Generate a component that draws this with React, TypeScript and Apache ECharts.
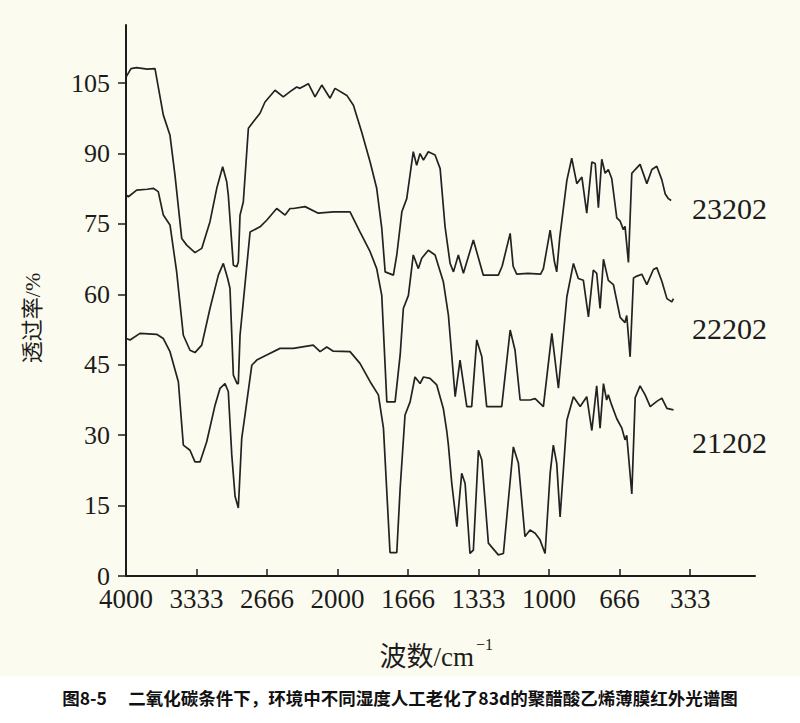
import React, { useEffect, useRef } from 'react';
import * as echarts from 'echarts';

// x-axis tick labels (wavenumber, cm^-1); the spectrum scale changes at 2000 cm^-1
const xTickLabels = ['4000', '3333', '2666', '2000', '1666', '1333', '1000', '666', '333'];
const xTickPositions = [0, 1, 2, 3, 4, 5, 6, 7, 8];
const yTicks = [0, 15, 30, 45, 60, 75, 90, 105];
const seriesNames = ['23202', '22202', '21202'];

// [wavenumber cm^-1, transmittance %]
const s23202: [number, number][] = [
  [4000, 106.3], [3953, 108.1], [3900, 108.3], [3800, 108.0], [3726, 108.1], [3647, 98.2], [3584, 93.9],
  [3537, 85.4], [3473, 71.9], [3426, 70.5], [3348, 68.9], [3284, 69.8], [3206, 75.5], [3142, 82.6],
  [3086, 87.2], [3048, 84.0], [3033, 81.2], [2985, 66.2], [2953, 65.9], [2938, 66.9], [2922, 76.9],
  [2891, 79.7], [2843, 95.4], [2796, 96.8], [2733, 98.6], [2686, 101.0], [2591, 103.5], [2513, 102.1],
  [2449, 103.2], [2386, 104.2], [2355, 103.9], [2276, 104.9], [2213, 102.1], [2149, 104.6], [2071, 101.8],
  [2024, 103.9], [1956, 102.4], [1925, 100.3], [1886, 94.6], [1846, 88.2], [1815, 82.6], [1791, 74.1],
  [1775, 64.8], [1736, 64.1], [1720, 68.4], [1696, 77.6], [1673, 80.4], [1642, 90.4], [1626, 87.5],
  [1610, 90.0], [1594, 88.6], [1571, 90.4], [1539, 89.7], [1515, 86.8], [1492, 74.5], [1468, 66.6],
  [1452, 64.8], [1429, 68.4], [1405, 64.5], [1358, 71.6], [1311, 64.1], [1240, 64.1], [1222, 66.0],
  [1184, 73.0], [1170, 66.0], [1153, 64.3], [1100, 64.5], [1040, 64.3], [1027, 65.5], [995, 73.7],
  [975, 67.0], [964, 64.8], [950, 72.0], [916, 84.3], [893, 89.0], [869, 83.6], [845, 85.0], [822, 77.3],
  [798, 88.2], [782, 87.9], [767, 78.5], [751, 88.8], [735, 85.8], [720, 86.6], [704, 84.7], [680, 76.3],
  [664, 75.6], [649, 73.8], [641, 74.5], [625, 66.8], [609, 85.8], [593, 86.6], [570, 87.7], [538, 83.6],
  [514, 86.6], [491, 87.3], [467, 84.4], [451, 81.4], [436, 80.4], [423, 80.0],
];

const s22202: [number, number][] = [
  [4000, 81.2], [3978, 80.8], [3899, 82.2], [3800, 82.4], [3742, 82.6], [3695, 81.9], [3647, 76.9],
  [3584, 74.8], [3521, 64.8], [3458, 51.3], [3395, 48.1], [3348, 47.6], [3284, 49.2], [3206, 57.0],
  [3127, 64.1], [3080, 66.6], [3040, 63.5], [3017, 61.3], [2985, 42.8], [2950, 41.0], [2938, 41.0],
  [2922, 51.3], [2891, 58.4], [2827, 73.3], [2733, 74.4], [2670, 75.8], [2575, 78.3], [2496, 76.9],
  [2449, 78.3], [2418, 78.3], [2307, 78.7], [2182, 77.3], [2040, 77.6], [1941, 77.6], [1894, 73.3],
  [1846, 69.1], [1815, 65.5], [1791, 59.8], [1767, 37.1], [1728, 37.1], [1704, 47.1], [1689, 57.0],
  [1665, 59.8], [1642, 68.4], [1618, 65.5], [1602, 67.7], [1571, 69.4], [1539, 68.4], [1500, 62.7],
  [1476, 55.6], [1444, 38.2], [1421, 46.0], [1389, 36.1], [1366, 36.1], [1342, 50.3], [1318, 46.7],
  [1295, 36.1], [1224, 36.1], [1184, 52.4], [1161, 48.1], [1137, 37.5], [1090, 37.5], [1066, 37.8],
  [1027, 36.1], [987, 51.7], [956, 40.0], [916, 59.5], [885, 66.6], [862, 63.4], [838, 63.0], [814, 55.2],
  [791, 65.2], [775, 64.5], [759, 57.0], [743, 67.5], [720, 63.0], [696, 62.1], [664, 55.1], [641, 54.0],
  [633, 55.5], [617, 46.7], [601, 63.5], [585, 63.9], [562, 64.3], [538, 62.1], [507, 65.3], [491, 65.7],
  [467, 62.8], [443, 59.1], [420, 58.4], [412, 59.1],
];

const s21202: [number, number][] = [
  [4000, 50.6], [3962, 50.3], [3868, 51.7], [3710, 51.5], [3647, 50.6], [3584, 47.8], [3505, 41.4],
  [3458, 27.9], [3395, 26.8], [3348, 24.3], [3300, 24.3], [3237, 28.6], [3158, 36.4], [3111, 40.0],
  [3064, 41.0], [3033, 39.3], [3000, 25.8], [2969, 17.0], [2938, 14.5], [2906, 29.3], [2875, 34.3],
  [2811, 44.9], [2764, 46.0], [2670, 47.1], [2544, 48.5], [2418, 48.5], [2230, 49.2], [2165, 47.8],
  [2102, 48.8], [2040, 47.9], [1941, 47.8], [1894, 45.3], [1846, 41.4], [1807, 38.6], [1783, 31.5],
  [1752, 5.0], [1720, 5.0], [1704, 18.7], [1681, 34.3], [1657, 37.1], [1634, 42.4], [1610, 41.0],
  [1594, 42.4], [1563, 42.1], [1531, 40.7], [1500, 35.7], [1484, 31.0], [1476, 27.9], [1460, 19.7],
  [1436, 10.5], [1413, 21.9], [1397, 19.7], [1374, 4.8], [1358, 5.5], [1334, 26.8], [1318, 24.7],
  [1287, 7.0], [1240, 4.5], [1216, 4.8], [1169, 27.5], [1145, 24.0], [1114, 8.4], [1090, 9.8],
  [1066, 9.1], [1043, 7.7], [1019, 4.8], [995, 21.9], [980, 27.9], [964, 24.0], [948, 12.6], [916, 33.2],
  [885, 38.2], [853, 36.1], [822, 38.2], [798, 31.0], [775, 40.5], [759, 31.5], [743, 41.0], [728, 37.5],
  [720, 38.6], [704, 36.4], [680, 33.5], [656, 31.5], [641, 29.0], [633, 30.0], [609, 17.5], [593, 38.0],
  [570, 40.5], [546, 38.6], [522, 36.1], [491, 37.2], [467, 37.9], [443, 35.7], [412, 35.4],
];

const yAxisTitle = '透过率/%';
const xAxisTitle = '波数/cm';
const xAxisTitleSup = '−1';
const caption = '图8-5\u3000 二氧化碳条件下，环境中不同湿度人工老化了83d的聚醋酸乙烯薄膜红外光谱图';

// piecewise-linear IR wavenumber scale: 4000→2000 over 3 units, 2000→0 over 6 units
const toPos = (w: number) => (w >= 2000 ? (4000 - w) / (2000 / 3) : 3 + (2000 - w) / (1000 / 3));

export default function App() {
  const ref = useRef<HTMLDivElement>(null);
  useEffect(() => {
    const chart = echarts.init(ref.current!, null, { renderer: 'svg' });
    const serif = '"Liberation Serif", "Times New Roman", serif';
    const mixed = '"Liberation Serif", "Noto Sans CJK SC", serif';
    const ink = '#1c1c1c';
    const data = [s23202, s22202, s21202];
    const labelY = [208, 328, 442];
    chart.setOption({
      animation: false,
      backgroundColor: '#fcfbef',
      grid: { left: 126, right: 45, top: 25, bottom: 147 },
      xAxis: {
        type: 'value',
        min: 0,
        max: 8.92,
        axisLine: { lineStyle: { color: ink, width: 2 } },
        axisTick: { inside: true, length: 7, customValues: xTickPositions, lineStyle: { color: ink, width: 1.5 } },
        axisLabel: {
          customValues: xTickPositions,
          formatter: (v: number) => xTickLabels[Math.round(v)],
          fontSize: 27,
          lineHeight: 20,
          fontFamily: serif,
          color: ink,
          margin: 13,
        },
        splitLine: { show: false },
      },
      yAxis: {
        type: 'value',
        min: 0,
        max: 117.4,
        axisLine: { show: true, lineStyle: { color: ink, width: 2 } },
        axisTick: { show: true, length: 8, customValues: yTicks, lineStyle: { color: ink, width: 1.5 } },
        axisLabel: { customValues: yTicks, fontSize: 26, lineHeight: 19, fontFamily: serif, color: ink, margin: 16 },
        splitLine: { show: false },
      },
      series: data.map((d, i) => ({
        type: 'line',
        name: seriesNames[i],
        data: d.map(([w, t]) => [toPos(w), t]),
        showSymbol: false,
        symbol: 'none',
        silent: true,
        lineStyle: { color: '#222', width: 1.7 },
      })),
      graphic: [
        { type: 'rect', silent: true, z: -1, shape: { x: 0, y: 676, width: 800, height: 47 }, style: { fill: '#ffffff' } },
        {
          type: 'text', x: 32, y: 318, rotation: Math.PI / 2,
          style: { text: yAxisTitle, fontSize: 22, fontFamily: mixed, fill: ink, align: 'center', verticalAlign: 'middle' },
        },
        {
          type: 'text', x: 474, y: 657,
          style: { text: xAxisTitle, fontSize: 27, fontFamily: mixed, fill: ink, align: 'right', verticalAlign: 'middle' },
        },
        {
          type: 'text', x: 476, y: 644,
          style: { text: xAxisTitleSup, fontSize: 16, fontFamily: serif, fill: ink, align: 'left', verticalAlign: 'middle' },
        },
        ...seriesNames.map((n, i) => ({
          type: 'text', x: 692, y: labelY[i],
          style: { text: n, fontSize: 30, fontFamily: serif, fill: ink, align: 'left', verticalAlign: 'middle' },
        })),
        {
          type: 'text', x: 400, y: 697,
          style: {
            text: caption, fontSize: 17.5, fontWeight: 'bold', fontFamily: '"Noto Sans CJK SC", sans-serif',
            fill: '#111', align: 'center', verticalAlign: 'middle',
          },
        },
      ],
    });
    return () => chart.dispose();
  }, []);
  return <div ref={ref} style={{ position: 'absolute', left: 0, top: 0, width: 800, height: 723 }} />;
}
